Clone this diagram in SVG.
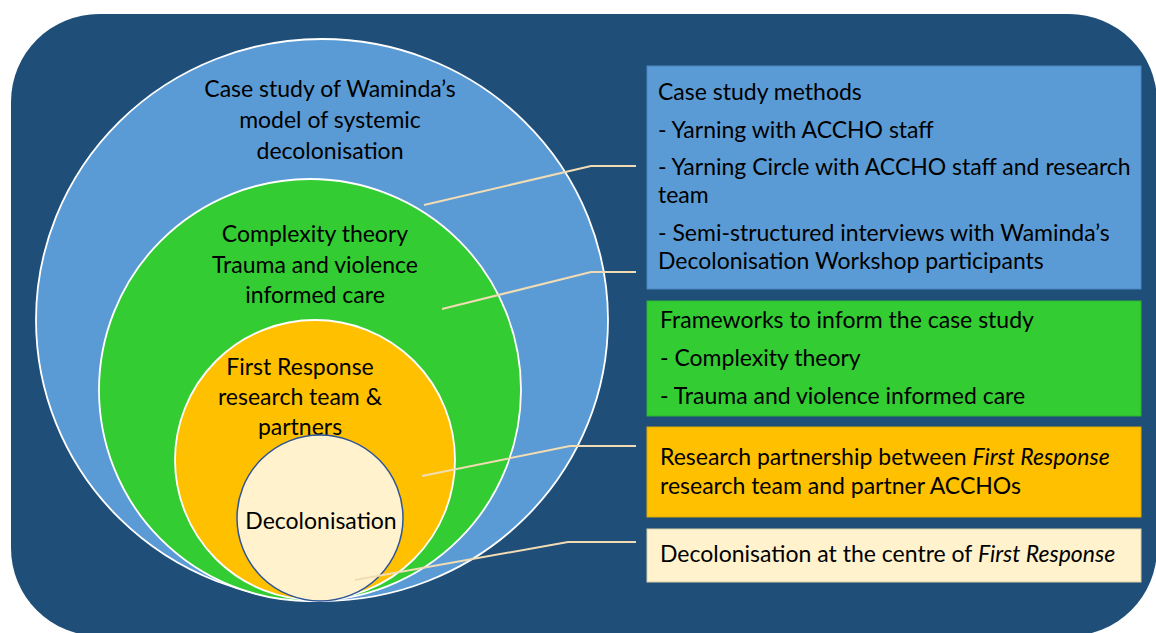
<svg xmlns="http://www.w3.org/2000/svg" width="1156" height="633" viewBox="0 0 1156 633">
<style>
text{font-family:Lato,"Liberation Sans",sans-serif;font-size:23px;fill:#000}
.c{text-anchor:middle}
.it{font-style:italic}
.conn{fill:none;stroke:#F2DCB4;stroke-width:2}
.ring{stroke:#fff;stroke-width:1.8}
.box{stroke-width:1}
</style>
<rect x="0" y="0" width="1156" height="633" fill="#fff"/>
<rect id="background" x="11" y="14" width="1146" height="622" rx="88" ry="88" fill="#1F4E79"/>
<g id="circle-case-study">
<ellipse class="ring" cx="322" cy="320" rx="286" ry="281" fill="#5B9BD5"/>
<text class="c" x="330" y="97">Case study of Waminda’s</text>
<text class="c" x="330" y="128">model of systemic</text>
<text class="c" x="330" y="159">decolonisation</text>
</g>
<g id="circle-frameworks">
<circle class="ring" cx="310" cy="390" r="211" fill="#33CC33"/>
<text class="c" x="315" y="242">Complexity theory</text>
<text class="c" x="315" y="273">Trauma and violence</text>
<text class="c" x="315" y="303">informed care</text>
</g>
<g id="circle-partnership">
<circle class="ring" cx="315" cy="460" r="140" fill="#FFC000"/>
<text class="c" x="300" y="375">First Response</text>
<text class="c" x="300" y="405">research team &amp;</text>
<text class="c" x="300" y="435">partners</text>
</g>
<g id="circle-decolonisation">
<circle cx="320" cy="518" r="83" fill="#FFF2CC" stroke="#2F5597" stroke-width="1.5"/>
<text class="c" x="321" y="529">Decolonisation</text>
</g>
<g id="box-methods">
<rect class="box" x="647" y="66" width="494" height="223" fill="#5B9BD5" stroke="#4A86C0"/>
<text x="658" y="100">Case study methods</text>
<text x="658" y="138">- Yarning with ACCHO staff</text>
<text x="658" y="175">- Yarning Circle with ACCHO staff and research</text>
<text x="658" y="203">team</text>
<text x="658" y="241">- Semi-structured interviews with Waminda’s</text>
<text x="658" y="269">Decolonisation Workshop participants</text>
</g>
<g id="box-frameworks">
<rect class="box" x="647" y="301" width="494" height="115" fill="#33CC33" stroke="#2DB52D"/>
<text x="660" y="328">Frameworks to inform the case study</text>
<text x="660" y="366">- Complexity theory</text>
<text x="660" y="404">- Trauma and violence informed care</text>
</g>
<g id="box-partnership">
<rect class="box" x="647" y="427" width="494" height="90" fill="#FFC000" stroke="#E0A800"/>
<text x="660" y="465">Research partnership between <tspan class="it">First Response</tspan></text>
<text x="660" y="494">research team and partner ACCHOs</text>
</g>
<g id="box-decolonisation">
<rect class="box" x="647" y="529" width="494" height="53" fill="#FFF2CC" stroke="#D9CFA8"/>
<text x="660" y="562">Decolonisation at the centre of <tspan class="it">First Response</tspan></text>
</g>
<g id="connectors">
<polyline class="conn" points="424,205 591,166 636,166"/>
<polyline class="conn" points="442,309 591,272 636,272"/>
<polyline class="conn" points="422,476 570,446 636,446"/>
<polyline class="conn" points="355,580 568,542 636,542"/>
</g>
</svg>
